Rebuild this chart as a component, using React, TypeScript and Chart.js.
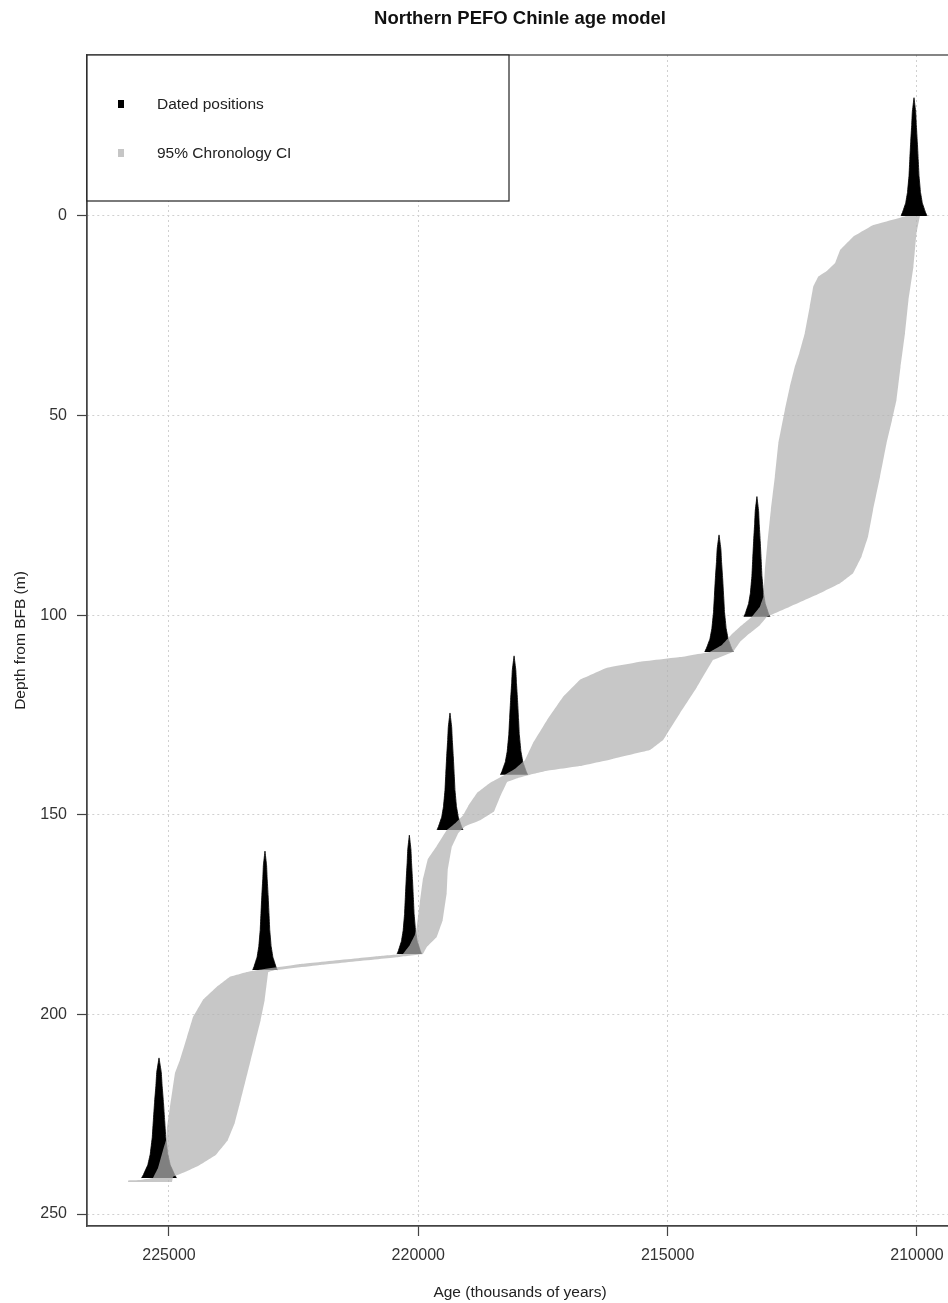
import React, { useEffect, useRef } from "react";
import { Chart, registerables } from "chart.js";

Chart.register(...registerables);

const FONT = "'Liberation Sans', Arial, Helvetica, sans-serif";

const TITLE = "Northern PEFO Chinle age model";
const X_TITLE = "Age (thousands of years)";
const Y_TITLE = "Depth from BFB (m)";
const LEGEND_LABELS = ["Dated positions", "95% Chronology CI"];

const X_TICKS = [225000, 220000, 215000, 210000];
const Y_TICKS = [0, 50, 100, 150, 200, 250];
const X_RANGE = [209278, 226644];
const Y_RANGE = [-40.3, 253.0];

// Dated positions: modal age and depth of each dated horizon
const DATED_AGES = [210060, 213210, 213970, 218080, 219365, 220180, 223075, 225200];
const DATED_DEPTHS = [0, 100.4, 109.2, 140.0, 153.8, 184.9, 188.9, 241.0];
const PEAK_HEIGHTS = [29.6, 30.1, 29.3, 29.8, 29.3, 29.8, 29.8, 30.1];
const PEAK_WIDTH_SCALE = [1.0, 1.0, 1.1, 1.05, 1.0, 0.95, 0.95, 1.35];
// Shape of a date's probability spike: fraction of height vs half-width (years)
const PEAK_PROFILE_FRAC = [0, 0.03, 0.11, 0.2, 0.34, 0.48, 0.63, 0.77, 0.88, 1];
const PEAK_PROFILE_HALF = [260, 230, 166, 130, 100, 84, 66, 46, 34, 0];

// 95% chronology CI: older (left) boundary
const CI_OLD_DEPTH = [0, 2.3, 5.2, 8.5, 11.8, 13.8, 15.2, 17.7, 22.7, 29.4, 34.4, 37.8, 42.8, 48.6, 56.9, 65.3, 73.6, 82.0, 88.7, 95.4, 97.9, 100.4, 102.9, 104.5, 107.5, 109.2, 110.5, 111.7, 113.2, 116.2, 120.5, 126.3, 132.0, 136.3, 138.5, 140.0, 142.0, 144.5, 147.8, 150.1, 152.1, 153.8, 157.8, 161.1, 166.3, 172.1, 178.1, 180.1, 182.6, 184.9, 185.4, 187.4, 188.9, 189.4, 190.6, 193.1, 196.4, 200.7, 205.7, 211.4, 214.7, 223.2, 228.5, 231.5, 234.0, 238.5, 241.0, 241.5, 241.6];
const CI_OLD_AGE = [210220, 210880, 211280, 211540, 211640, 211810, 211980, 212080, 212150, 212250, 212360, 212450, 212550, 212650, 212780, 212850, 212930, 213000, 213050, 213080, 213150, 213310, 213550, 213690, 213910, 214150, 214750, 215560, 216220, 216760, 217100, 217420, 217700, 217860, 218060, 218260, 218560, 218820, 219000, 219100, 219260, 219430, 219630, 219810, 219910, 219970, 220030, 220070, 220170, 220310, 220770, 222370, 223220, 223440, 223780, 224040, 224320, 224520, 224640, 224780, 224880, 224980, 225040, 225060, 225120, 225220, 225320, 225580, 225820];
// 95% chronology CI: younger (right) boundary
const CI_YOUNG_DEPTH = [0, 4.3, 12.7, 21.0, 29.4, 37.8, 46.1, 51.1, 56.9, 65.3, 73.6, 80.3, 85.3, 89.5, 92.0, 94.9, 97.9, 100.4, 102.5, 104.5, 106.7, 109.2, 111.2, 118.0, 124.5, 131.3, 133.8, 136.0, 137.8, 139.0, 140.0, 140.8, 141.8, 145.5, 149.2, 151.4, 152.9, 153.8, 154.6, 158.1, 163.9, 169.6, 176.4, 180.6, 183.1, 184.9, 185.6, 187.6, 188.9, 189.4, 196.4, 201.4, 206.4, 211.4, 216.4, 221.4, 227.2, 231.5, 235.2, 237.7, 239.5, 240.7, 242.0, 242.0];
const CI_YOUNG_AGE = [209940, 210010, 210070, 210170, 210240, 210330, 210410, 210500, 210610, 210740, 210880, 210980, 211110, 211280, 211540, 212010, 212550, 213010, 213150, 213350, 213550, 213690, 214090, 214410, 214750, 215090, 215350, 216100, 216760, 217420, 217760, 218000, 218220, 218360, 218480, 218760, 219060, 219140, 219200, 219330, 219410, 219430, 219510, 219630, 219830, 219910, 220370, 221970, 222870, 223010, 223080, 223160, 223260, 223360, 223460, 223560, 223680, 223820, 224060, 224380, 224680, 224920, 224940, 225820];

const BAND_COLOR = "rgba(178,178,178,0.72)";
const PEAK_COLOR = "#000000";

function peakPoints(i: number) {
  const pts: { x: number; y: number }[] = [];
  const age = DATED_AGES[i];
  const depth = DATED_DEPTHS[i];
  const h = PEAK_HEIGHTS[i];
  const s = PEAK_WIDTH_SCALE[i];
  const n = PEAK_PROFILE_FRAC.length;
  for (let k = 0; k < n; k++) pts.push({ x: age + PEAK_PROFILE_HALF[k] * s, y: depth - PEAK_PROFILE_FRAC[k] * h });
  for (let k = n - 2; k >= 0; k--) pts.push({ x: age - PEAK_PROFILE_HALF[k] * s, y: depth - PEAK_PROFILE_FRAC[k] * h });
  return pts;
}

function bandPoints() {
  const pts: { x: number; y: number }[] = [];
  for (let i = 0; i < CI_OLD_DEPTH.length; i++) pts.push({ x: CI_OLD_AGE[i], y: CI_OLD_DEPTH[i] });
  for (let i = CI_YOUNG_DEPTH.length - 1; i >= 0; i--) pts.push({ x: CI_YOUNG_AGE[i], y: CI_YOUNG_DEPTH[i] });
  return pts;
}

const framePlugin = {
  id: "frameAndLegend",
  afterDatasetsDraw(chart: any) {
    const { ctx, chartArea: ca } = chart;
    ctx.save();
    // plot box
    ctx.strokeStyle = "#444";
    ctx.lineWidth = 1.3;
    ctx.strokeRect(ca.left, ca.top, ca.right - ca.left, ca.bottom - ca.top);
    // legend box
    const bx = ca.left, by = ca.top, bw = 422, bh = 146;
    ctx.fillStyle = "#ffffff";
    ctx.fillRect(bx, by, bw, bh);
    ctx.strokeStyle = "#222";
    ctx.lineWidth = 1.2;
    ctx.strokeRect(bx, by, bw, bh);
    const rows = [by + 49, by + 98];
    const colors = [PEAK_COLOR, "#c6c6c6"];
    for (let i = 0; i < 2; i++) {
      ctx.fillStyle = colors[i];
      ctx.fillRect(bx + 31, rows[i] - 4, 6, 8);
      ctx.fillStyle = "#222";
      ctx.font = `15.5px ${FONT}`;
      ctx.textAlign = "left";
      ctx.textBaseline = "middle";
      ctx.fillText(LEGEND_LABELS[i], bx + 70, rows[i] + 1);
    }
    ctx.restore();
  },
};

export default function App() {
  const ref = useRef<HTMLCanvasElement | null>(null);

  useEffect(() => {
    if (!ref.current) return;
    const datasets: any[] = [
      {
        label: LEGEND_LABELS[1],
        data: bandPoints(),
        showLine: true,
        fill: "shape",
        tension: 0.001,
        backgroundColor: BAND_COLOR,
        borderColor: "rgba(0,0,0,0)",
        borderWidth: 0,
        pointRadius: 0,
      },
    ];
    for (let i = 0; i < DATED_AGES.length; i++) {
      datasets.push({
        label: LEGEND_LABELS[0],
        data: peakPoints(i),
        showLine: true,
        fill: "shape",
        tension: 0.001,
        backgroundColor: PEAK_COLOR,
        borderColor: PEAK_COLOR,
        borderWidth: 0.8,
        pointRadius: 0,
      });
    }

    const gridCommon = {
      color: "#d0d0d0",
      lineWidth: 1,
      tickLength: 10,
      tickColor: "#444",
      tickWidth: 1.2,
    };
    const borderCommon = { display: true, color: "#444", width: 1.3, dash: [2, 3] };

    const chart = new Chart(ref.current, {
      type: "scatter",
      data: { datasets },
      options: {
        responsive: false,
        animation: false,
        events: [],
        layout: { padding: { left: 0, right: 7, top: 0, bottom: 0 } },
        plugins: {
          legend: { display: false },
          tooltip: { enabled: false },
          title: {
            display: true,
            text: TITLE,
            fullSize: false,
            color: "#111",
            font: { family: FONT, size: 18.5, weight: "bold" },
            padding: { top: 8, bottom: 24.8 },
          },
        },
        scales: {
          x: {
            type: "linear",
            position: "bottom",
            reverse: true,
            min: X_RANGE[0],
            max: X_RANGE[1],
            afterBuildTicks: (s: any) => {
              s.ticks = X_TICKS.map((v) => ({ value: v }));
            },
            afterFit: (s: any) => {
              s.height = 77;
            },
            ticks: {
              font: { family: FONT, size: 16 },
              color: "#333",
              padding: 10,
              maxRotation: 0,
              autoSkip: false,
              callback: (v: any) => String(v),
            },
            grid: gridCommon,
            border: borderCommon,
            title: {
              display: true,
              text: X_TITLE,
              color: "#222",
              font: { family: FONT, size: 15.5 },
              padding: { top: 0, bottom: 1 },
            },
          },
          y: {
            type: "linear",
            position: "left",
            reverse: true,
            min: Y_RANGE[0],
            max: Y_RANGE[1],
            afterBuildTicks: (s: any) => {
              s.ticks = Y_TICKS.map((v) => ({ value: v }));
            },
            afterFit: (s: any) => {
              s.width = 87;
            },
            ticks: {
              font: { family: FONT, size: 16 },
              color: "#333",
              padding: 10,
              autoSkip: false,
              callback: (v: any) => String(v),
            },
            grid: gridCommon,
            border: borderCommon,
            title: {
              display: true,
              text: Y_TITLE,
              color: "#222",
              font: { family: FONT, size: 15.5 },
              padding: { top: 11.7, bottom: 0 },
            },
          },
        },
      } as any,
      plugins: [framePlugin],
    });
    return () => chart.destroy();
  }, []);

  return (
    <div
      style={{
        position: "absolute",
        left: 0,
        top: 0,
        width: 948,
        height: 1303,
        overflow: "hidden",
        background: "#ffffff",
      }}
    >
      <canvas ref={ref} width={960} height={1303} style={{ display: "block", width: 960, height: 1303 }} />
    </div>
  );
}
